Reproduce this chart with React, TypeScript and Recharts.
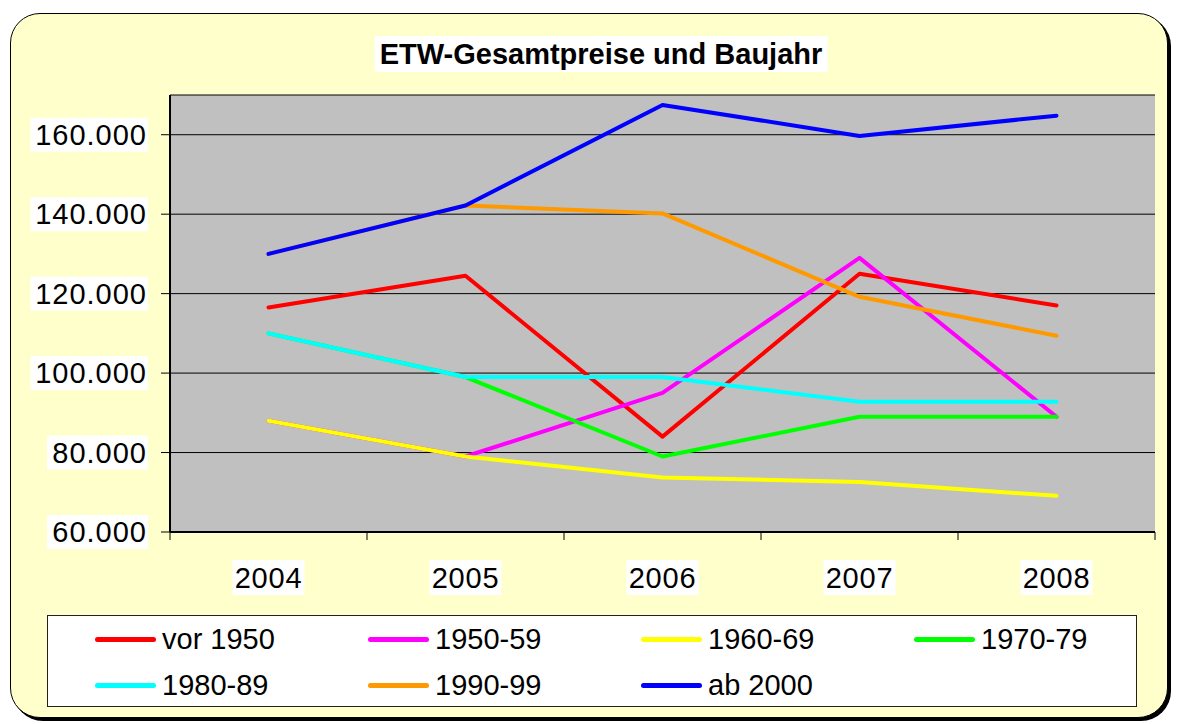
import React from "react";
import { LineChart, Line, XAxis, YAxis, CartesianGrid } from "recharts";

const years = ["2004", "2005", "2006", "2007", "2008"];

const vor1950 = [116500, 124500, 84000, 125000, 117000];
const from1950 = [88000, 79000, 95000, 129000, 89000];
const from1960 = [88000, 79000, 73700, 72600, 69100];
const from1970 = [110000, 99000, 79000, 89000, 89000];
const from1980 = [110000, 99000, 99000, 92800, 92800];
const from1990 = [130000, 142200, 140200, 119200, 109400];
const ab2000 = [130000, 142200, 167500, 159700, 164800];

const yTicks = [60000, 80000, 100000, 120000, 140000, 160000];

const seriesNames = ["vor 1950", "1950-59", "1960-69", "1970-79", "1980-89", "1990-99", "ab 2000"];
const seriesColors = ["#FF0000", "#FF00FF", "#FFFF00", "#00FF00", "#00FFFF", "#FF9900", "#0000FF"];
const seriesValues = [vor1950, from1950, from1960, from1970, from1980, from1990, ab2000];

const data = years.map((year, i) => {
  const row: Record<string, string | number> = { year };
  seriesNames.forEach((name, s) => {
    row[name] = seriesValues[s][i];
  });
  return row;
});

const W = 1177;
const H = 724;
const margin = { top: 95, right: 22, bottom: 132, left: 90 };
const bandWidth = (W - margin.left - 80 - margin.right) / years.length;
const FONT = "'Liberation Sans', Arial, sans-serif";

function formatDE(v: number): string {
  return String(v).replace(/\B(?=(\d{3})+(?!\d))/g, ".");
}

function YTick(props: any) {
  const { x, y, payload } = props;
  const label = formatDE(payload.value);
  const w = label.length * 16.5 + 2;
  return (
    <g>
      <rect x={x - w + 1} y={y - 17} width={w} height={34} fill="#fff" />
      <text x={x} y={y} dy={10} textAnchor="end" fontSize={29} letterSpacing={1} fontFamily={FONT} fill="#000">
        {label}
      </text>
    </g>
  );
}

function XTick(props: any) {
  const { x, y, payload, index } = props;
  const axisY = y - 8;
  const left = x - bandWidth / 2;
  const right = x + bandWidth / 2;
  return (
    <g>
      <line x1={left} y1={axisY} x2={left} y2={axisY + 8} stroke="#000" strokeWidth={1} />
      {index === years.length - 1 && (
        <line x1={right} y1={axisY} x2={right} y2={axisY + 8} stroke="#000" strokeWidth={1} />
      )}
      <rect x={x - 36} y={axisY + 28} width={72} height={35} fill="#fff" />
      <text x={x} y={axisY + 56} textAnchor="middle" fontSize={29} letterSpacing={0.8} fontFamily={FONT} fill="#000">
        {payload.value}
      </text>
    </g>
  );
}

function LegendBox() {
  const cols = [94, 367, 640, 913];
  const rows = [638, 684];
  return (
    <div
      style={{
        position: "absolute",
        left: 47,
        top: 615,
        width: 1090,
        height: 92,
        background: "#fff",
        border: "1.5px solid #222",
        boxSizing: "border-box",
      }}
    >
      {seriesNames.map((name, i) => {
        const cx = cols[i % 4] - 47;
        const cy = rows[Math.floor(i / 4)] - 615;
        return (
          <div key={name} style={{ position: "absolute", left: cx, top: cy - 20, height: 40, display: "flex", alignItems: "center" }}>
            <div style={{ width: 61, height: 5, borderRadius: 3, background: seriesColors[i] }} />
            <span style={{ marginLeft: 6, fontSize: 29, fontFamily: FONT, color: "#000", lineHeight: "40px" }}>{name}</span>
          </div>
        );
      })}
    </div>
  );
}

export default function App() {
  return (
    <div style={{ position: "absolute", left: 0, top: 0, width: W, height: H, background: "#fff" }}>
      <div
        style={{
          position: "absolute",
          left: 10,
          top: 13,
          width: 1158,
          height: 705,
          background: "#FFFFCC",
          border: "1.5px solid #000",
          borderRadius: 30,
          boxShadow: "3px 3px 0 #000",
          boxSizing: "border-box",
        }}
      />
      <div
        style={{
          position: "absolute",
          left: 601,
          top: 36,
          transform: "translateX(-50%)",
          background: "#fff",
          padding: "0 5px",
          height: 36,
          lineHeight: "36px",
          fontSize: 29,
          fontWeight: "bold",
          fontFamily: FONT,
          whiteSpace: "nowrap",
          color: "#000",
        }}
      >
        ETW-Gesamtpreise und Baujahr
      </div>
      <div style={{ position: "absolute", left: 0, top: 0 }}>
        <LineChart width={W} height={H} data={data} margin={margin}>
          <CartesianGrid vertical={false} stroke="#000" fill="#C0C0C0" fillOpacity={1} />
          <XAxis
            dataKey="year"
            height={60}
            padding={{ left: bandWidth / 2, right: bandWidth / 2 }}
            axisLine={{ stroke: "#000", strokeWidth: 2 }}
            tickLine={false}
            tickSize={8}
            tickMargin={0}
            tick={<XTick />}
            interval={0}
          />
          <XAxis xAxisId="top" dataKey="year" orientation="top" height={0} tick={false} tickLine={false} axisLine={{ stroke: "#808080", strokeWidth: 2 }} />
          <YAxis
            width={80}
            domain={[60000, 170000]}
            ticks={yTicks}
            interval={0}
            tickSize={9}
            tickMargin={14}
            axisLine={{ stroke: "#000", strokeWidth: 2 }}
            tickLine={{ stroke: "#000" }}
            tick={<YTick />}
          />
          <YAxis yAxisId="right" orientation="right" width={0} tick={false} tickLine={false} axisLine={{ stroke: "#808080", strokeWidth: 2 }} />
          {seriesNames.map((name, i) => (
            <Line
              key={name}
              type="linear"
              dataKey={name}
              stroke={seriesColors[i]}
              strokeWidth={4}
              strokeLinecap="round"
              strokeLinejoin="round"
              dot={false}
              activeDot={false}
              isAnimationActive={false}
            />
          ))}
        </LineChart>
      </div>
      <LegendBox />
    </div>
  );
}
